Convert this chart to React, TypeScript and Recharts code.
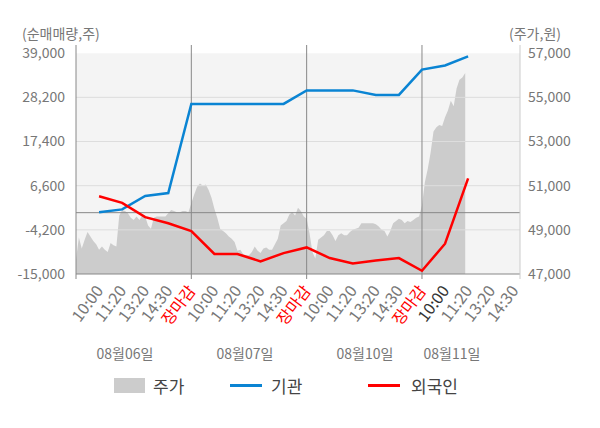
import { ComposedChart, Area, Line, XAxis, YAxis, ReferenceArea, ReferenceLine } from 'recharts';

const FONT = '"Noto Sans CJK KR", "Noto Sans", sans-serif';

const days = ['08월06일', '08월07일', '08월10일', '08월11일'];
const timeLabels = ['10:00', '11:20', '13:20', '14:30', '장마감'];

// 주가 (원), 40 samples per trading session
const priceDay1 = [
  47650, 48650, 48150, 48550, 48900, 48700, 48500, 48350, 48100, 48250,
  48100, 48000, 48400, 48300, 48250, 49650, 49900, 49850, 49750, 49550,
  49450, 49600, 49450, 49650, 49600, 49200, 49050, 49550, 49600, 49600,
  49600, 49600, 49750, 49900, 49850, 49800, 49800, 49850, 49850, 49800,
];
const priceDay2 = [
  50200, 50600, 50950, 51100, 51000, 51050, 50800, 50450, 49950, 49550,
  49050, 48950, 48850, 48700, 48600, 48450, 48050, 48100, 47900, 47850,
  47850, 48000, 48250, 48050, 47950, 48150, 48200, 48100, 48100, 48350,
  48600, 49200, 49300, 49400, 49700, 49800, 49650, 50000, 49850, 49600,
];
const priceDay3 = [
  49500, 48850, 48000, 47700, 48550, 48650, 48750, 48950, 48950, 48750,
  48500, 48750, 48850, 48750, 48750, 48900, 49000, 49050, 49100, 49300,
  49300, 49300, 49300, 49300, 49250, 49150, 49000, 48950, 48700, 48950,
  49300, 49400, 49500, 49450, 49300, 49400, 49350, 49450, 49550, 49600,
];
const priceDay4 = [
  50100, 51150, 51750, 52500, 53450, 53650, 53750, 53700, 54100, 54400,
  54850, 54600, 55400, 55800, 55900, 56100,
];

// 순매매량 (주) at 10:00, 11:20, 13:20, 14:30, 장마감 of each day
const institution = [
  100, 800, 4100, 4800, 26600,
  26600, 26600, 26600, 26600, 29900,
  29900, 29900, 28800, 28800, 35000,
  36000, 38200,
];
const foreign = [
  4000, 2400, -1100, -2600, -4500,
  -10100, -10100, -11900, -9900, -8500,
  -11100, -12400, -11700, -11100, -14200,
  -7600, 8400,
];

const leftTicks = [-15000, -4200, 6600, 17400, 28200, 39000];
const rightTicks = [47000, 49000, 51000, 53000, 55000, 57000];

const SESSION = 5; // x-units per day
const SAMPLES = 40;
const X_END = 19.25;

type Row = { x: number; price?: number; inst?: number; frgn?: number };
const rows: Row[] = [];
[priceDay1, priceDay2, priceDay3, priceDay4].forEach((arr, d) =>
  arr.forEach((p, k) => rows.push({ x: d * SESSION + (k * SESSION) / SAMPLES, price: p }))
);
institution.forEach((v, i) => rows.push({ x: i + 1, inst: v, frgn: foreign[i] }));
rows.sort((a, b) => a.x - b.x);

const xTicks = [...Array.from({ length: 20 }, (_, i) => i), X_END];

function TimeTick(props: any) {
  const { x, y, payload } = props;
  const v: number = payload.value;
  const edge = v % SESSION === 0 || v === X_END;
  const hasLabel = v > 0 && v !== X_END;
  const label = hasLabel ? timeLabels[(v - 1) % SESSION] : '';
  const color = label === '장마감' ? '#ff0000' : v === 16 ? '#333333' : '#777777';
  const tx = x + 5;
  const ty = y + 17;
  return (
    <g>
      {edge && (
        <line x1={x} y1={y} x2={x} y2={y + 5} stroke={v === X_END ? '#cccccc' : '#888888'} />
      )}
      {hasLabel && (
        <text
          x={tx}
          y={ty}
          textAnchor="end"
          fontSize={16}
          fontFamily={FONT}
          fill={color}
          transform={`rotate(-53, ${tx}, ${ty})`}
        >
          {label}
        </text>
      )}
    </g>
  );
}

const fmt = (v: number) => v.toLocaleString('en-US');
const dayLabelX = [125, 245, 365, 452];

export default function App() {
  return (
    <div style={{ position: 'absolute', left: 0, top: 0, width: 600, height: 428, background: '#fff', fontFamily: FONT }}>
      <ComposedChart width={600} height={428} data={rows} margin={{ top: 45, right: 0, bottom: 94, left: 0 }}>
        <XAxis
          dataKey="x"
          type="number"
          domain={[0, X_END]}
          ticks={xTicks}
          interval={0}
          tickLine={false}
          tickSize={0}
          tickMargin={0}
          height={60}
          stroke="#888888"
          tick={<TimeTick />}
        />
        <YAxis
          yAxisId="left"
          domain={[-15000, 41000]}
          ticks={leftTicks}
          tickFormatter={fmt}
          tickLine={false}
          tickMargin={5}
          width={76}
          stroke="#888888"
          tick={{ fill: '#777777', fontSize: 14, fontFamily: FONT }}
          allowDataOverflow
        />
        <YAxis
          yAxisId="right"
          orientation="right"
          domain={[47000, 57370]}
          ticks={rightTicks}
          tickFormatter={fmt}
          tickLine={false}
          width={80}
          stroke="#cccccc"
          tick={{ fill: '#777777', fontSize: 14, fontFamily: FONT }}
          allowDataOverflow
        />
        <ReferenceArea yAxisId="left" x1={0} x2={X_END} y1={-15000} y2={39000} fill="#f4f4f4" fillOpacity={1} stroke="none" />
        <Area
          yAxisId="right"
          dataKey="price"
          name="주가"
          type="linear"
          stroke="none"
          fill="#cccccc"
          fillOpacity={1}
          connectNulls
          isAnimationActive={false}
        />
        {leftTicks.slice(1, -1).map((t) => (
          <ReferenceLine key={t} yAxisId="left" y={t} stroke="#dddddd" />
        ))}
        <ReferenceLine yAxisId="left" y={0} stroke="#888888" />
        {[1, 2, 3].map((d) => (
          <ReferenceLine key={d} yAxisId="left" x={d * SESSION} stroke="#888888" />
        ))}
        <Line
          yAxisId="left"
          dataKey="inst"
          name="기관"
          type="linear"
          stroke="#0a84d3"
          strokeWidth={2.5}
          dot={false}
          connectNulls
          isAnimationActive={false}
        />
        <Line
          yAxisId="left"
          dataKey="frgn"
          name="외국인"
          type="linear"
          stroke="#ff0000"
          strokeWidth={2.5}
          dot={false}
          connectNulls
          isAnimationActive={false}
        />
      </ComposedChart>

      <div style={{ position: 'absolute', left: 22, top: 23, fontSize: 14, lineHeight: '20px', color: '#777' }}>(순매매량,주)</div>
      <div style={{ position: 'absolute', left: 509, top: 23, fontSize: 14, lineHeight: '20px', color: '#777' }}>(주가,원)</div>

      {days.map((d, i) => (
        <div
          key={d}
          style={{
            position: 'absolute',
            left: dayLabelX[i] - 40,
            width: 80,
            top: 343,
            textAlign: 'center',
            fontSize: 14,
            lineHeight: '20px',
            color: '#777',
          }}
        >
          {d}
        </div>
      ))}

      <div style={{ position: 'absolute', left: 114, top: 375, height: 20, display: 'flex', alignItems: 'center', fontSize: 17, color: '#444' }}>
        <span style={{ width: 31, height: 15, background: '#cccccc', marginRight: 8 }} />
        <span>주가</span>
      </div>
      <div style={{ position: 'absolute', left: 230, top: 375, height: 20, display: 'flex', alignItems: 'center', fontSize: 17, color: '#444' }}>
        <span style={{ width: 32, height: 3, background: '#0a84d3', marginRight: 9 }} />
        <span>기관</span>
      </div>
      <div style={{ position: 'absolute', left: 368, top: 375, height: 20, display: 'flex', alignItems: 'center', fontSize: 17, color: '#444' }}>
        <span style={{ width: 32, height: 3, background: '#ff0000', marginRight: 11 }} />
        <span>외국인</span>
      </div>
    </div>
  );
}
